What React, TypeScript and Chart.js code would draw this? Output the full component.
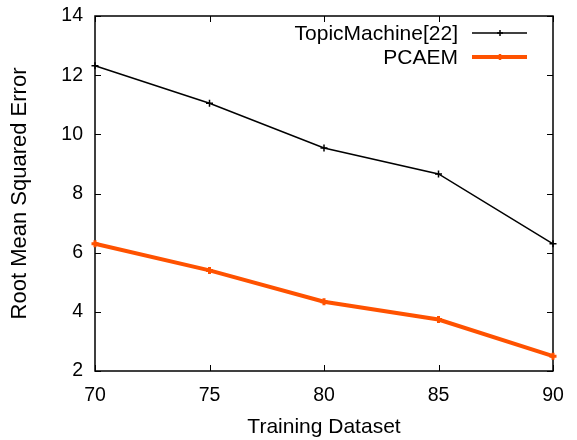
import React, { useEffect, useRef } from "react";
import { Chart, registerables } from "chart.js";

Chart.register(...registerables);

const xValues = [70, 75, 80, 85, 90];
const topicMachine = [12.32, 11.05, 9.54, 8.66, 6.3];
const pcaem = [6.3, 5.4, 4.34, 3.74, 2.5];
const seriesNames = ["TopicMachine[22]", "PCAEM"];
const xTitle = "Training Dataset";
const yTitle = "Root Mean Squared Error";

const FONT = "'Liberation Sans', Arial, Helvetica, sans-serif";
const ORANGE = "#ff5200";

const framePlugin = {
  id: "frame",
  beforeDatasetsDraw(chart: any) {
    const { ctx, chartArea: a, scales } = chart;
    ctx.save();
    ctx.strokeStyle = "#000";
    ctx.lineWidth = 1.5;
    ctx.strokeRect(a.left, a.top, a.right - a.left, a.bottom - a.top);
    const tl = 6;
    ctx.lineWidth = 1;
    ctx.beginPath();
    for (const t of scales.x.ticks) {
      const x = Math.round(scales.x.getPixelForValue(t.value)) + 0.5;
      ctx.moveTo(x, a.bottom);
      ctx.lineTo(x, a.bottom - tl);
      ctx.moveTo(x, a.top);
      ctx.lineTo(x, a.top + tl);
    }
    for (const t of scales.y.ticks) {
      const y = Math.round(scales.y.getPixelForValue(t.value)) + 0.5;
      ctx.moveTo(a.left, y);
      ctx.lineTo(a.left + tl, y);
      ctx.moveTo(a.right, y);
      ctx.lineTo(a.right - tl, y);
    }
    ctx.stroke();
    ctx.restore();
  },
  afterDraw(chart: any) {
    const { ctx } = chart;
    ctx.save();
    ctx.font = `21px ${FONT}`;
    ctx.textAlign = "right";
    ctx.textBaseline = "middle";
    ctx.fillStyle = "#000";
    const rows = [
      { y: 33, color: "#000", width: 1.5, name: seriesNames[0], r: 3 },
      { y: 57, color: ORANGE, width: 4, name: seriesNames[1], r: 3 },
    ];
    for (const row of rows) {
      ctx.fillStyle = "#000";
      ctx.fillText(row.name, 458, row.y + 1);
      ctx.strokeStyle = row.color;
      ctx.lineWidth = row.width;
      ctx.beginPath();
      ctx.moveTo(472, row.y);
      ctx.lineTo(527, row.y);
      ctx.stroke();
      ctx.lineWidth = row === rows[0] ? 1.5 : 2.5;
      ctx.beginPath();
      ctx.moveTo(500 - row.r, row.y);
      ctx.lineTo(500 + row.r, row.y);
      ctx.moveTo(500, row.y - row.r);
      ctx.lineTo(500, row.y + row.r);
      ctx.stroke();
    }
    ctx.restore();
  },
};

export default function App() {
  const ref = useRef<HTMLCanvasElement>(null);
  useEffect(() => {
    if (!ref.current) return;
    const chart = new Chart(ref.current, {
      type: "line",
      data: {
        datasets: [
          {
            label: seriesNames[0],
            data: xValues.map((x, i) => ({ x, y: topicMachine[i] })),
            borderColor: "#000",
            backgroundColor: "#000",
            borderWidth: 1.5,
            pointStyle: "cross",
            pointRadius: 3.5,
            pointBorderWidth: 1.5,
            pointBorderColor: "#000",
            tension: 0,
            clip: false as any,
          },
          {
            label: seriesNames[1],
            data: xValues.map((x, i) => ({ x, y: pcaem[i] })),
            borderColor: ORANGE,
            backgroundColor: ORANGE,
            borderWidth: 4,
            pointStyle: "cross",
            pointRadius: 3.5,
            pointBorderWidth: 3,
            pointBorderColor: ORANGE,
            tension: 0,
            clip: false as any,
          },
        ],
      },
      options: {
        responsive: false,
        animation: false,
        layout: { padding: { top: 16, right: 24, left: 0, bottom: 0 } },
        plugins: { legend: { display: false }, tooltip: { enabled: false } },
        scales: {
          x: {
            type: "linear",
            min: 70,
            max: 90,
            grid: { display: false, drawTicks: false },
            border: { display: false },
            ticks: {
              stepSize: 5,
              color: "#000",
              padding: 13,
              font: { family: FONT, size: 19.5 },
              maxRotation: 0,
            },
            title: {
              display: true,
              text: xTitle,
              color: "#000",
              font: { family: FONT, size: 21 },
              padding: { top: 0, bottom: 0 },
            },
            afterFit(scale: any) {
              scale.height = 69;
              scale.paddingLeft = 0;
              scale.paddingRight = 0;
            },
          },
          y: {
            type: "linear",
            min: 2,
            max: 14,
            grid: { display: false, drawTicks: false },
            border: { display: false },
            ticks: {
              stepSize: 2,
              color: "#000",
              padding: 12,
              font: { family: FONT, size: 19.5 },
            },
            title: {
              display: true,
              text: yTitle,
              color: "#000",
              font: { family: FONT, size: 22 },
              padding: { top: 7, bottom: 0 },
            },
            afterFit(scale: any) {
              scale.width = 95;
              scale.paddingTop = 0;
              scale.paddingBottom = 0;
            },
          },
        },
      },
      plugins: [framePlugin],
    });
    return () => chart.destroy();
  }, []);
  return (
    <div style={{ position: "fixed", left: 0, top: 0, width: 577, height: 440, background: "#fff" }}>
      <canvas ref={ref} width={577} height={440} />
    </div>
  );
}
